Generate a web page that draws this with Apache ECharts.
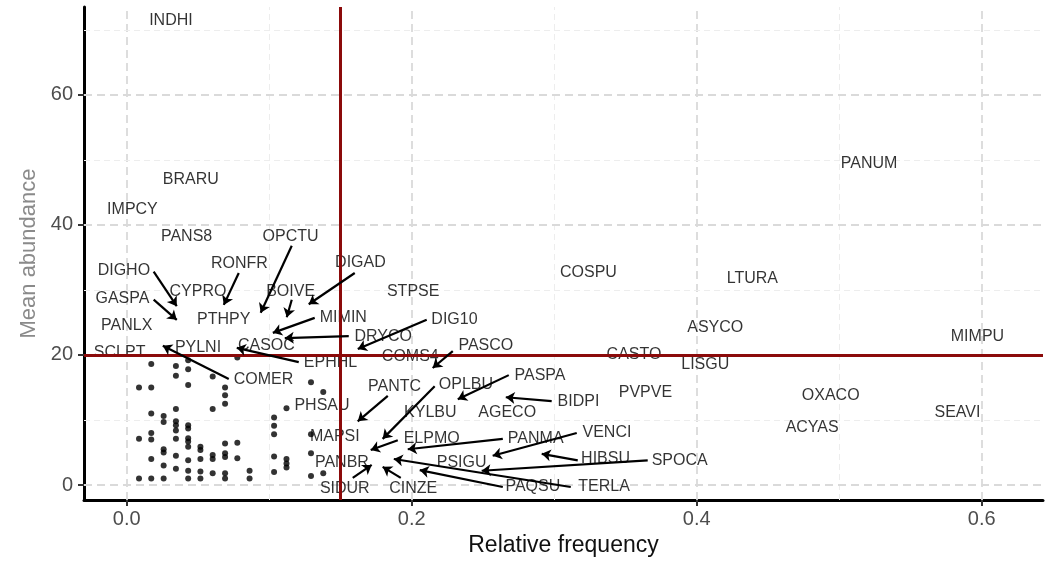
<!DOCTYPE html>
<html><head><meta charset="utf-8">
<script src="https://cdn.jsdelivr.net/npm/echarts@6/dist/echarts.min.js"></script>
<style>html,body{margin:0;padding:0;background:#fff}#c{width:1051px;height:563px}</style>
</head><body><div id="c"></div>
<script>
// ---- axis ticks / thresholds ----
const xTicks = [0, 0.2, 0.4, 0.6];
const xMinor = [0.1, 0.3, 0.5];
const yTicks = [0, 20, 40, 60];
const yMinor = [10, 30, 50, 70];
const freqThreshold = 0.15;
const abundThreshold = 20;

// ---- labelled species (label placement, data units) ----
const labelNames = ['INDHI','BRARU','IMPCY','PANS8','OPCTU','RONFR','DIGHO','CYPRO','GASPA','PTHPY','PANLX','SCLPT','PYLNI','CASOC','COMER','EPHHL','BOIVE','DIGAD','STPSE','MIMIN','DIG10','DRYCO','PASCO','COMS4','PANTC','OPLBU','PASPA','PHSAU','KYLBU','AGECO','BIDPI','PVPVE','MAPSI','ELPMO','PANMA','VENCI','PANBR','PSIGU','HIBSU','SPOCA','SIDUR','CINZE','PAQSU','TERLA','COSPU','LTURA','PANUM','ASYCO','MIMPU','CASTO','LISGU','OXACO','SEAVI','ACYAS'];
const labelFreq  = [0.031,0.045,0.004,0.042,0.115,0.079,-0.002,0.050,-0.003,0.068,0.000,-0.005,0.050,0.098,0.096,0.143,0.115,0.164,0.201,0.152,0.230,0.180,0.252,0.199,0.188,0.238,0.290,0.137,0.213,0.267,0.317,0.364,0.146,0.214,0.287,0.337,0.151,0.235,0.336,0.388,0.153,0.201,0.285,0.335,0.324,0.439,0.521,0.413,0.597,0.356,0.406,0.494,0.583,0.481];
const labelAbund = [71.4,46.9,42.3,38.2,38.2,34.0,32.9,29.7,28.6,25.4,24.5,20.3,21.2,21.4,16.2,18.8,29.8,34.2,29.8,25.8,25.5,22.9,21.4,19.7,15.2,15.4,16.9,12.2,11.2,11.2,12.8,14.2,7.4,7.1,7.1,8.0,3.5,3.4,4.0,3.8,-0.5,-0.5,-0.3,-0.3,32.6,31.7,49.5,24.2,22.9,20.0,18.5,13.7,11.2,8.8];

// ---- repelled labels: segment from label to the species point ----
const arrowNames     = ['DIGHO','GASPA','RONFR','OPCTU','BOIVE','DIGAD','MIMIN','DRYCO','DIG10','PASCO','COMER','EPHHL','PANTC','OPLBU','PASPA','BIDPI','ELPMO','PANMA','VENCI','HIBSU','SPOCA','TERLA','PAQSU','CINZE','SIDUR'];
const arrowFromFreq  = [0.0189,0.0189,0.0786,0.1158,0.1158,0.1600,0.1319,0.1558,0.2105,0.2288,0.0716,0.1207,0.1832,0.2161,0.2681,0.2982,0.1902,0.2639,0.3158,0.3165,0.3656,0.3116,0.2639,0.1923,0.1586];
const arrowFromAbund = [32.8,28.5,32.6,36.8,28.5,32.6,25.7,22.9,25.4,20.6,16.3,18.9,13.7,15.2,16.9,12.9,6.9,7.1,8.0,3.8,3.8,-0.3,-0.3,1.1,1.1];
const pointFreq      = [0.0351,0.0351,0.0681,0.0940,0.1123,0.1277,0.1025,0.1109,0.1621,0.2147,0.0253,0.0772,0.1621,0.1796,0.2323,0.2660,0.1712,0.1972,0.2568,0.2912,0.2491,0.1874,0.2056,0.1796,0.1719];
const pointAbund     = [27.5,25.4,27.7,26.5,25.8,27.8,23.4,22.6,20.9,18.0,21.4,21.1,9.8,7.1,13.2,13.5,5.4,5.5,4.5,4.8,2.2,4.0,2.3,2.8,3.1];

// ---- unlabelled species (dots) ----
const dotFreq = [
 0.0086,0.0086,0.0086,
 0.0172,0.0172,0.0172,0.0172,0.0172,0.0172,0.0172,
 0.0259,0.0259,0.0259,0.0259,0.0259,0.0259,
 0.0345,0.0345,0.0345,0.0345,0.0345,0.0345,0.0345,0.0345,0.0345,
 0.0431,0.0431,0.0431,0.0431,0.0431,0.0431,0.0431,0.0431,0.0431,0.0431,0.0431,
 0.0517,0.0517,0.0517,0.0517,0.0517,
 0.0603,0.0603,0.0603,0.0603,0.0603,
 0.0690,0.0690,0.0690,0.0690,0.0690,0.0690,0.0690,0.0690,
 0.0776,0.0776,0.0776,
 0.0862,0.0862,
 0.1034,0.1034,0.1034,0.1034,0.1034,
 0.1121,0.1121,0.1121,0.1121,
 0.1293,0.1293,0.1293,0.1293,
 0.1379,0.1379];
const dotAbund = [
 15.0,7.1,1.0,
 18.6,15.0,11.0,8.0,7.0,4.0,1.0,
 10.6,9.7,5.5,5.0,3.0,1.0,
 18.3,16.8,11.7,9.8,9.2,8.4,7.1,4.5,2.5,
 19.2,17.8,15.4,9.2,8.7,7.2,6.7,5.9,3.8,2.2,1.0,
 5.9,5.4,4.0,2.1,1.0,
 16.7,11.7,4.6,4.0,1.8,
 15.0,13.8,12.5,6.4,4.9,4.3,1.8,1.0,
 19.6,6.5,4.1,
 2.2,1.0,
 10.4,9.1,7.8,4.4,2.0,
 11.8,4.0,3.3,2.7,
 15.8,7.8,4.9,1.4,
 14.3,1.8];

const FONT = 'Liberation Sans';
const majorStyle = {color:'#dadada', width:1.8, type:[8,5]};
const minorStyle = {color:'#ededed', width:1, type:[6,4]};
const gridLines = []
  .concat(xTicks.map(v => ({xAxis:v, lineStyle:majorStyle})))
  .concat(xMinor.map(v => ({xAxis:v, lineStyle:minorStyle})))
  .concat(yTicks.map(v => ({yAxis:v, lineStyle:majorStyle})))
  .concat(yMinor.map(v => ({yAxis:v, lineStyle:minorStyle})));

const chart = echarts.init(document.getElementById('c'));
chart.setOption({
  animation:false,
  textStyle:{fontFamily:FONT},
  grid:{left:84, right:8, top:7, bottom:63},
  xAxis:{
    type:'value', min:-0.03, max:0.643,
    axisLine:{onZero:false, lineStyle:{color:'#000', width:3}},
    axisTick:{customValues:xTicks, length:6, lineStyle:{color:'#333', width:2}},
    axisLabel:{customValues:xTicks, formatter:v => v.toFixed(1), fontSize:20, color:'#4d4d4d', margin:9, fontFamily:FONT},
    splitLine:{show:false},
    name:'Relative frequency', nameLocation:'middle', nameGap:33,
    nameTextStyle:{fontSize:23, color:'#111', fontFamily:FONT}
  },
  yAxis:{
    type:'value', min:-2.3, max:73.5,
    axisLine:{onZero:false, lineStyle:{color:'#000', width:3}},
    axisTick:{customValues:yTicks, length:6, lineStyle:{color:'#333', width:2}},
    axisLabel:{customValues:yTicks, fontSize:20, color:'#4d4d4d', margin:11, fontFamily:FONT},
    splitLine:{show:false},
    name:'Mean abundance', nameLocation:'middle', nameGap:42, nameRotate:90,
    nameTextStyle:{fontSize:22, color:'#8a8a8a', fontFamily:FONT}
  },
  series:[
    {
      type:'scatter', z:2, silent:true,
      symbolSize:6, itemStyle:{color:'#000'},
      data: dotFreq.map((f,i) => [f, dotAbund[i]]),
      markLine:{silent:true, z:1, symbol:'none', label:{show:false}, data:gridLines}
    },
    {
      type:'scatter', z:3, silent:true,
      symbolSize:1, itemStyle:{color:'rgba(0,0,0,0)'},
      label:{show:true, position:'inside', formatter:'{b}', fontSize:16, color:'#000', fontFamily:FONT},
      data: labelNames.map((n,i) => ({name:n, value:[labelFreq[i], labelAbund[i]]})),
      markLine:{silent:true, z:5, symbol:'none', label:{show:false},
        lineStyle:{color:'#8b0a0a', width:3, type:'solid'},
        data:[{xAxis:freqThreshold},{yAxis:abundThreshold}]}
    },
    {
      type:'lines', coordinateSystem:'cartesian2d', z:6, silent:true,
      symbol:['none','arrow'], symbolSize:9,
      lineStyle:{color:'#000', width:2.2, opacity:1},
      data: arrowNames.map((n,i) => ({name:n, coords:[[arrowFromFreq[i], arrowFromAbund[i]],[pointFreq[i], pointAbund[i]]]}))
    }
  ]
});
</script></body></html>
